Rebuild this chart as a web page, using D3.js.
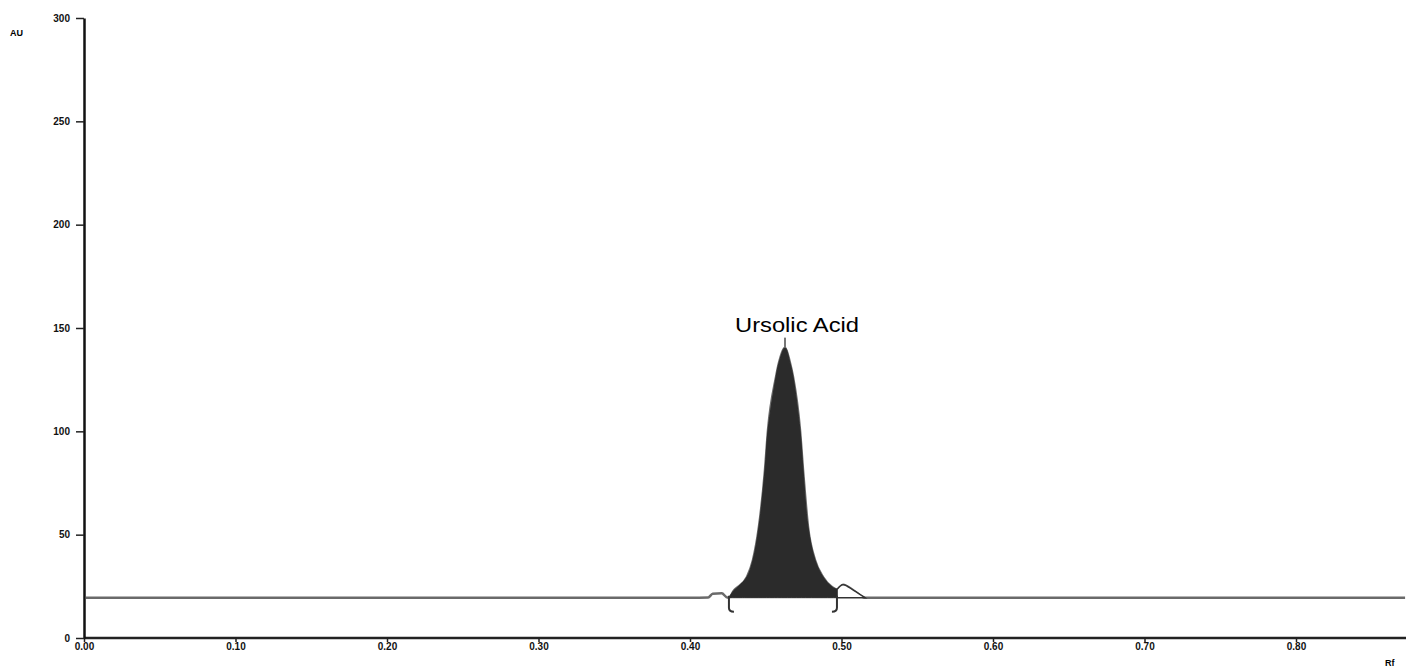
<!DOCTYPE html>
<html>
<head>
<meta charset="utf-8">
<script src="https://cdn.jsdelivr.net/npm/d3@7"></script>
<style>
  body { margin: 0; background: #fff; }
  svg { display: block; }
</style>
</head>
<body>
<div id="chart"></div>
<script>
// dữ liệu
const rfTicks = [0, 0.1, 0.2, 0.3, 0.4, 0.5, 0.6, 0.7, 0.8];
const auTicks = [0, 50, 100, 150, 200, 250, 300];

// vết sắc ký (Rf, AU)
const traceRf = [0.0013, 0.40, 0.412, 0.415, 0.421, 0.424, 0.4257, 0.4290, 0.4317, 0.4376, 0.4416, 0.4455, 0.4495, 0.4515, 0.4568, 0.4587, 0.4627, 0.466, 0.468, 0.4726, 0.4746, 0.4779, 0.4825, 0.4878, 0.4937, 0.497, 0.5010, 0.508, 0.5155, 0.872];
const traceAu = [19.5, 19.5, 19.6, 21.4, 21.6, 19.8, 19.5, 23.0, 24.7, 29.5, 37.7, 53.7, 81.3, 100.6, 126.3, 133, 140.5, 133, 126.3, 100.6, 81.3, 53.7, 37.7, 29.5, 24.7, 23.5, 25.8, 23.0, 19.5, 19.5];

const baseline = 19.5;
const peakStart = 0.4257, peakEnd = 0.497, peakRf = 0.4627;
const peakName = "Ursolic Acid";

const width = 1424, height = 669;

const svg = d3.select("#chart").append("svg")
    .attr("width", width)
    .attr("height", height)
    .style("font-family", "'Liberation Sans', Arial, sans-serif");

const x = d3.scaleLinear().domain([0, 0.8]).range([84, 1296]);
const y = d3.scaleLinear().domain([0, 300]).range([638, 18]);

const trace = traceRf.map((r, i) => ({ rf: r, au: traceAu[i] }));
const peak = trace.filter(d => d.rf >= peakStart && d.rf <= peakEnd);
const bump = trace.filter(d => d.rf >= peakEnd && d.rf <= 0.5155);
const curve = d3.curveCatmullRom.alpha(0.5);

// đường nền
svg.append("path")
    .datum(trace)
    .attr("fill", "none")
    .attr("stroke", "#6a6a6a")
    .attr("stroke-width", 2.5)
    .attr("d", d3.line().x(d => x(d.rf)).y(d => y(d.au)).curve(d3.curveMonotoneX));

// đỉnh phụ (viền)
svg.append("path")
    .datum(bump)
    .attr("fill", "#fff")
    .attr("stroke", "#333")
    .attr("stroke-width", 1.5)
    .attr("d", d3.area().x(d => x(d.rf)).y0(y(baseline)).y1(d => y(d.au)).curve(d3.curveMonotoneX));

// đỉnh chính (tô đậm)
svg.append("path")
    .datum(peak)
    .attr("fill", "#2b2b2b")
    .attr("stroke", "#2b2b2b")
    .attr("stroke-width", 1)
    .attr("d", d3.area().x(d => x(d.rf)).y0(y(baseline)).y1(d => y(d.au)).curve(curve));

// dấu tích phân
[[peakStart, 1], [peakEnd, -1]].forEach(([r, dir]) => {
    const px = x(r), py = y(baseline);
    svg.append("path")
        .attr("fill", "none")
        .attr("stroke", "#333")
        .attr("stroke-width", 2)
        .attr("d", `M${px},${py - 2} L${px},${py + 10} Q${px},${py + 14} ${px + dir * 5},${py + 14}`);
});

// vạch đánh dấu đỉnh
const apexAu = d3.max(peak, d => d.au);
svg.append("line")
    .attr("x1", x(peakRf)).attr("x2", x(peakRf))
    .attr("y1", y(apexAu) - 10).attr("y2", y(apexAu))
    .attr("stroke", "#777")
    .attr("stroke-width", 2);

svg.append("text")
    .attr("x", x(peakRf) + 12)
    .attr("y", y(apexAu) - 16)
    .attr("text-anchor", "middle")
    .attr("textLength", 124)
    .attr("lengthAdjust", "spacingAndGlyphs")
    .style("font-size", "21px")
    .text(peakName);

// trục x
const xAxis = svg.append("g")
    .attr("transform", `translate(0,${y(0)})`)
    .call(d3.axisBottom(x).tickValues(rfTicks).tickFormat(d3.format(".2f")).tickSize(4).tickSizeOuter(0));
xAxis.select(".domain").remove();
xAxis.append("line")
    .attr("x1", x(0)).attr("x2", 1406)
    .attr("stroke", "#222")
    .attr("stroke-width", 2.5);
xAxis.selectAll(".tick line").attr("stroke", "#222").attr("stroke-width", 1.5);
xAxis.selectAll(".tick text")
    .attr("dy", "0.5em")
    .style("font-size", "10px")
    .style("font-weight", "bold")
    .attr("fill", "#111");

// trục y
const yAxis = svg.append("g")
    .attr("transform", `translate(${x(0)},0)`)
    .call(d3.axisLeft(y).tickValues(auTicks).tickSize(8).tickPadding(6).tickSizeOuter(0));
yAxis.select(".domain").attr("stroke", "#111").attr("stroke-width", 2.5);
yAxis.selectAll(".tick line").attr("stroke", "#222").attr("stroke-width", 1.5);
yAxis.selectAll(".tick text")
    .style("font-size", "10px")
    .style("font-weight", "bold")
    .attr("fill", "#111");

svg.append("text")
    .attr("x", 10).attr("y", 36)
    .style("font-size", "9px")
    .style("font-weight", "bold")
    .text("AU");

svg.append("text")
    .attr("x", 1385).attr("y", 666)
    .style("font-size", "9px")
    .style("font-weight", "bold")
    .text("Rf");
</script>
</body>
</html>
